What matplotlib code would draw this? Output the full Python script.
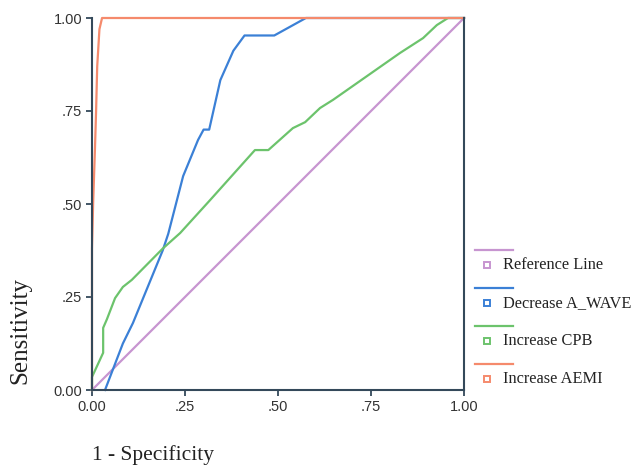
import numpy as np
import matplotlib
matplotlib.use("Agg")
import matplotlib.pyplot as plt
from matplotlib.lines import Line2D

# ROC curves
ref_x = [0.0, 1.0]
ref_y = [0.0, 1.0]

awave_x = [0.035, 0.083, 0.11, 0.19, 0.205, 0.245, 0.285, 0.30, 0.315, 0.345, 0.38, 0.41, 0.49, 0.575, 1.0]
awave_y = [0.0, 0.125, 0.18, 0.375, 0.42, 0.575, 0.672, 0.70, 0.70, 0.833, 0.912, 0.953, 0.953, 1.0, 1.0]

cpb_x = [0.0, 0.0, 0.03, 0.03, 0.04, 0.062, 0.083, 0.107, 0.19, 0.237, 0.317, 0.438, 0.474, 0.54, 0.573, 0.613, 0.648, 0.828, 0.89, 0.927, 0.957, 1.0]
cpb_y = [0.0, 0.035, 0.10, 0.167, 0.19, 0.247, 0.277, 0.296, 0.38, 0.422, 0.51, 0.645, 0.645, 0.704, 0.72, 0.758, 0.78, 0.906, 0.946, 0.981, 1.0, 1.0]

aemi_x = [0.0, 0.0, 0.003, 0.008, 0.011, 0.014, 0.02, 0.027, 1.0]
aemi_y = [0.0, 0.38, 0.5, 0.65, 0.75, 0.87, 0.97, 1.0, 1.0]

ticks = [0.0, 0.25, 0.5, 0.75, 1.0]
tick_labels = ["0.00", ".25", ".50", ".75", "1.00"]

names = ["Reference Line", "Decrease A_WAVE", "Increase CPB", "Increase AEMI"]
colors = ["#c795d0", "#3b80d6", "#6cc36c", "#f58a6c"]

W, H = 633, 466
fig = plt.figure(figsize=(W / 100, H / 100), dpi=100)
ax = fig.add_axes([92 / W, 1 - 390 / H, 372 / W, 372 / H])

series = [(ref_x, ref_y), (awave_x, awave_y), (cpb_x, cpb_y), (aemi_x, aemi_y)]
for (xs, ys), c in zip(series, colors):
    ax.plot(xs, ys, color=c, lw=1.6, clip_on=False, solid_joinstyle="round")

ax.set_xlim(0, 1)
ax.set_ylim(0, 1)
ax.set_xticks(ticks)
ax.set_yticks(ticks)
ax.set_xticklabels(tick_labels)
ax.set_yticklabels(tick_labels)

spine_col = "#34495a"
for s in ["left", "bottom", "right"]:
    ax.spines[s].set_color(spine_col)
    ax.spines[s].set_linewidth(1.5)
ax.spines["top"].set_visible(False)
ax.tick_params(direction="out", length=4, width=1.3, color=spine_col,
               labelsize=10.5, labelcolor="#333333", pad=3)
for lab in ax.get_xticklabels() + ax.get_yticklabels():
    lab.set_family("Liberation Sans")

fig.text(20 / W, 1 - 331 / H, "Sensitivity", rotation=90, ha="center", va="center",
         family="Liberation Serif", fontsize=18, color="#222222")
fig.text(92 / W, 1 - 455 / H, "1 - Specificity", ha="left", va="center",
         family="Liberation Serif", fontsize=15.5, color="#222222")

# legend, drawn by hand in the SPSS style
for i, (name, c) in enumerate(zip(names, colors)):
    ly = 250 + i * 38
    my = ly + 15
    fig.add_artist(Line2D([475 / W, 513 / W], [1 - ly / H, 1 - ly / H],
                          color=c, lw=1.6, transform=fig.transFigure))
    fig.add_artist(Line2D([487 / W], [1 - my / H], marker="s", markersize=5,
                          markerfacecolor="none", markeredgecolor=c, markeredgewidth=1.4,
                          transform=fig.transFigure))
    fig.text(503 / W, 1 - my / H, name, ha="left", va="center",
             family="Liberation Serif", fontsize=11.8, color="#222222")

fig.savefig("out.png", dpi=100)
